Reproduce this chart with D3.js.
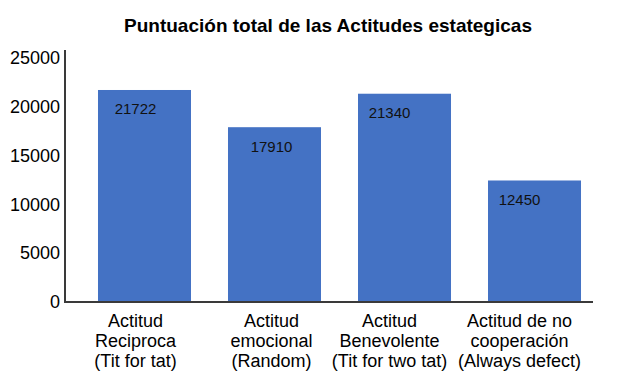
<!DOCTYPE html>
<head>
    <script src="https://d3js.org/d3.v7.min.js"></script>
    <style>
        body{ margin: 0; background: #fff; }
        svg{ display: block; font-family: "Liberation Sans", Arial, sans-serif; }
    </style>
</head>
<body>
    <svg id="chart" width="617" height="381"></svg>
    <script>
        // data
        var categories = [
            ["Actitud", "Reciproca", "(Tit for tat)"],
            ["Actitud", "emocional", "(Random)"],
            ["Actitud", "Benevolente", "(Tit for two tat)"],
            ["Actitud de no", "cooperación", "(Always defect)"]
        ];
        var values = [21722, 17910, 21340, 12450];
        var yTicks = [0, 5000, 10000, 15000, 20000, 25000];

        // text in the original sits a bit left of each bar's centre
        var labelShift = [-9, -3, -15, -15];

        var svg = d3.select("#chart");

        var x = d3.scaleBand().domain(d3.range(values.length)).range([75.5, 603.5]).paddingInner(0.2846).paddingOuter(0.173);
        var y = d3.scaleLinear().domain([0, 25000]).range([302, 58]);

        // title
        svg.append("text")
            .attr("x", 328).attr("y", 32)
            .attr("text-anchor", "middle")
            .style("font-size", "19px").style("font-weight", "bold")
            .text("Puntuación total de las Actitudes estategicas");

        // bars
        svg.selectAll("rect.bar")
            .data(values)
            .enter()
            .append("rect")
                .attr("class", "bar")
                .attr("x", (d, i) => x(i))
                .attr("y", d => y(d))
                .attr("width", x.bandwidth())
                .attr("height", d => y(0) - y(d))
                .style("fill", "#4472C4");

        // value labels inside bars
        svg.selectAll("text.val")
            .data(values)
            .enter()
            .append("text")
                .attr("class", "val")
                .attr("x", (d, i) => x(i) + x.bandwidth() / 2 + labelShift[i])
                .attr("y", d => y(d) + 24.5)
                .attr("text-anchor", "middle")
                .style("font-size", "15px")
                .style("fill", "#111")
                .text(d => d);

        // y axis labels
        var yAxis = svg.append("g")
            .attr("transform", "translate(65,0)")
            .call(d3.axisLeft(y).tickValues(yTicks).tickFormat(d3.format("d")).tickSize(0).tickPadding(5));
        yAxis.select(".domain").remove();
        yAxis.selectAll("text")
            .style("font-size", "18px")
            .style("font-family", "'Liberation Sans', Arial, sans-serif")
            .style("fill", "#000");

        // axis lines
        svg.append("line")
            .attr("x1", 65).attr("x2", 65).attr("y1", 50).attr("y2", y(0) + 1)
            .style("stroke", "#3a3a3a").style("stroke-width", 2);
        svg.append("line")
            .attr("x1", 64).attr("x2", 593).attr("y1", y(0)).attr("y2", y(0))
            .style("stroke", "#3a3a3a").style("stroke-width", 2);

        // category labels
        var catG = svg.selectAll("g.cat")
            .data(categories)
            .enter()
            .append("g")
                .attr("class", "cat")
                .attr("transform", (d, i) => "translate(" + (x(i) + x.bandwidth() / 2 + labelShift[i]) + ",327)");
        catG.selectAll("text")
            .data(d => d)
            .enter()
            .append("text")
                .attr("y", (d, j) => j * 20)
                .attr("text-anchor", "middle")
                .style("font-size", "18px")
                .style("fill", "#000")
                .text(d => d);
    </script>
</body>
</html>
